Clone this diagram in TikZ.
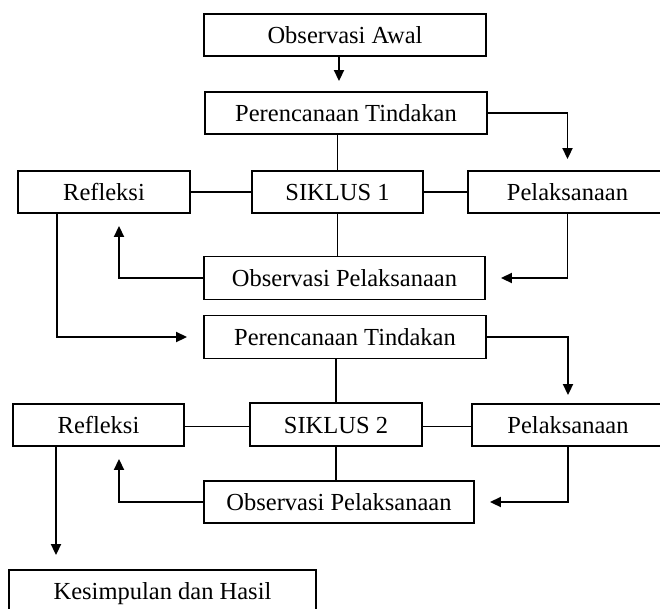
\documentclass[tikz,border=0pt]{standalone}
\usepackage{fontspec}
\setmainfont{Liberation Serif}
\usetikzlibrary{arrows.meta}
\begin{document}
\begin{tikzpicture}[x=1pt,y=-1pt,
  box/.style={draw=black,line width=1.9pt,minimum height=42pt,inner sep=0pt,
    text height=17pt,text depth=0pt,
    font=\fontsize{24.5}{28}\selectfont,anchor=center},
  conn/.style={line width=1.9pt,draw=black},
  arr/.style={conn,-{Triangle[length=11pt,width=10pt]}}]
\useasboundingbox (0,0) rectangle (660,608);
\node[box,minimum width=282pt] (oa)  at (345,35)    {Observasi Awal};
\node[box,minimum width=282pt] (pt1) at (346,113)   {Perencanaan Tindakan};
\node[box,minimum width=172pt] (r1)  at (104,192)   {Refleksi};
\node[box,minimum width=171pt] (s1)  at (337.5,192) {SIKLUS 1};
\node[box,minimum width=199pt] (p1)  at (567.5,192) {Pelaksanaan};
\node[box,minimum width=281pt,minimum height=43pt] (op1) at (344.5,278) {Observasi Pelaksanaan};
\node[box,minimum width=282pt,minimum height=43pt] (pt2) at (345,337)   {Perencanaan Tindakan};
\node[box,minimum width=171pt] (r2)  at (98.5,425)  {Refleksi};
\node[box,minimum width=172pt,minimum height=43pt] (s2) at (336,424.5) {SIKLUS 2};
\node[box,minimum width=192pt] (p2)  at (568,425)   {Pelaksanaan};
\node[box,minimum width=270pt] (op2) at (339,502)   {Observasi Pelaksanaan};
\node[box,minimum width=307pt] (k)   at (162.5,591) {Kesimpulan dan Hasil};
% cycle 1
\draw[arr,shorten >=10pt] ([xshift=-6pt]oa.south) -- ([xshift=-6pt]oa.south |- pt1.north);
\draw[arr,shorten >=11pt] (pt1.east) -| (p1.north);
\draw[conn] (pt1.south -| s1.north) -- (s1.north);
\draw[conn] (s1.west) -- (r1.east);
\draw[conn] (s1.east) -- (p1.west);
\draw[conn] (s1.south) -- (s1.south |- op1.north);
\draw[arr,shorten >=15pt] (p1.south) |- (op1.east);
\draw[arr,shorten >=12pt] (op1.west) -| ([xshift=15pt]r1.south);
\draw[arr,shorten >=16pt] ([xshift=-47pt]r1.south) |- (pt2.west);
% cycle 2
\draw[conn] (pt2.south -| s2.north) -- (s2.north);
\draw[arr,shorten >=8pt] (pt2.east) -| (p2.north);
\draw[conn] ([yshift=-2pt]s2.west) -- ([yshift=-2pt]s2.west -| r2.east);
\draw[conn] ([yshift=-2pt]s2.east) -- ([yshift=-2pt]s2.east -| p2.west);
\draw[conn] (s2.south) -- (s2.south |- op2.north);
\draw[arr,shorten >=15pt] (p2.south) |- (op2.east);
\draw[arr,shorten >=12pt] (op2.west) -| ([xshift=20.5pt]r2.south);
\draw[arr,shorten >=14pt] ([xshift=-42.5pt]r2.south) -- ([xshift=-42.5pt]r2.south |- k.north);
\end{tikzpicture}
\end{document}
